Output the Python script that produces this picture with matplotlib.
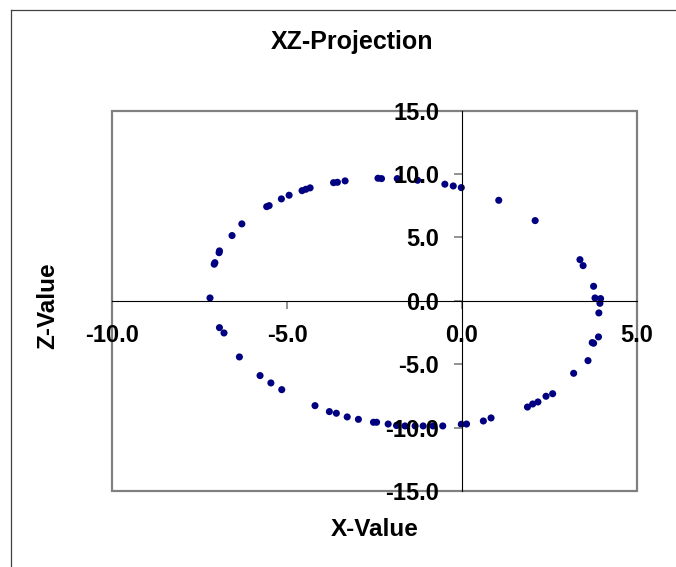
import matplotlib
matplotlib.use("Agg")
import matplotlib.pyplot as plt
from matplotlib.patches import Rectangle
from matplotlib.lines import Line2D

plt.rcParams['font.family'] = ['Liberation Sans', 'DejaVu Sans']

x_values = [-7.20, -7.08, -7.06, -6.93, -6.94, -6.57, -6.29, -5.58, -5.51, -5.16,
            -4.94, -4.57, -4.46, -4.34, -3.67, -3.56, -3.34, -2.40, -2.30, -1.85,
            -1.27, -0.49, -0.25, -0.02, 1.05, 2.09, 3.37, 3.46, 3.76, 3.80,
            3.96, 3.94, 3.91, 3.90, 3.76, 3.72, 3.60, 3.19, 2.59, 2.40,
            2.17, 2.02, 1.87, 0.83, 0.61, 0.13, -0.02, -0.55, -0.83, -1.11,
            -1.34, -1.63, -1.87, -2.11, -2.44, -2.53, -2.96, -3.28, -3.59, -3.79,
            -4.20, -5.15, -5.46, -5.77, -6.36, -6.80, -6.93]
z_values = [0.22, 2.88, 3.00, 3.93, 3.79, 5.14, 6.06, 7.42, 7.50, 8.03,
            8.32, 8.68, 8.79, 8.90, 9.31, 9.34, 9.45, 9.66, 9.63, 9.63,
            9.50, 9.19, 9.05, 8.92, 7.92, 6.32, 3.24, 2.77, 1.14, 0.22,
            0.17, -0.20, -0.96, -2.85, -3.35, -3.30, -4.72, -5.72, -7.33, -7.53,
            -7.98, -8.14, -8.38, -9.24, -9.48, -9.72, -9.74, -9.87, -9.87, -9.87,
            -9.87, -9.87, -9.84, -9.72, -9.58, -9.58, -9.35, -9.16, -8.87, -8.74,
            -8.27, -7.01, -6.48, -5.90, -4.43, -2.54, -2.12]
x_ticks = [-10.0, -5.0, 0.0, 5.0]
z_ticks = [-15.0, -10.0, -5.0, 0.0, 5.0, 10.0, 15.0]

W, H = 676, 567
fig = plt.figure(figsize=(W / 100, H / 100), dpi=100)
fig.patch.set_facecolor('white')

left, right, top, bottom = 112, 637, 110.5, 491
ax = fig.add_axes([left / W, 1 - bottom / H, (right - left) / W, (bottom - top) / H])
ax.set_xlim(-10, 5)
ax.set_ylim(-15, 15)

ax.scatter(x_values, z_values, s=26, color='#000080', edgecolors='none', zorder=1)

for s in ['top', 'right']:
    ax.spines[s].set_visible(False)
ax.spines['left'].set_position('zero')
ax.spines['bottom'].set_position('zero')
for s in ['left', 'bottom']:
    ax.spines[s].set_color('black')
    ax.spines[s].set_linewidth(0.8)

ax.set_xticks(x_ticks)
ax.set_yticks(z_ticks)
ax.set_xticklabels([f"{v:.1f}" for v in x_ticks])
ax.set_yticklabels([f"{v:.1f}" for v in z_ticks])
ax.tick_params(direction='out', length=5.5, width=1.2, color='#808080',
               labelcolor='black', pad=11, labelsize=17)
for lab in ax.get_xticklabels() + ax.get_yticklabels():
    lab.set_fontweight('bold')

ax.add_patch(Rectangle((0, 0), 1, 1, transform=ax.transAxes, fill=False,
                       edgecolor='#808080', linewidth=1.6, clip_on=False, zorder=0.5))

fig.text(352 / W, 1 - 42 / H, 'XZ-Projection', ha='center', va='center',
         fontsize=18, fontweight='bold')
fig.text(375 / W, 1 - 530 / H, 'X-Value', ha='center', va='center',
         fontsize=17.5, fontweight='bold')
fig.text(48 / W, 1 - 306 / H, 'Z-Value', ha='center', va='center',
         fontsize=17.5, fontweight='bold', rotation=90)

bx = 11 / W
by = 1 - 9.5 / H
fig.add_artist(Line2D([bx, bx], [0, by], color='#404040', linewidth=0.9))
fig.add_artist(Line2D([bx, 1], [by, by], color='#404040', linewidth=0.9))

fig.savefig('out.png', dpi=100)
